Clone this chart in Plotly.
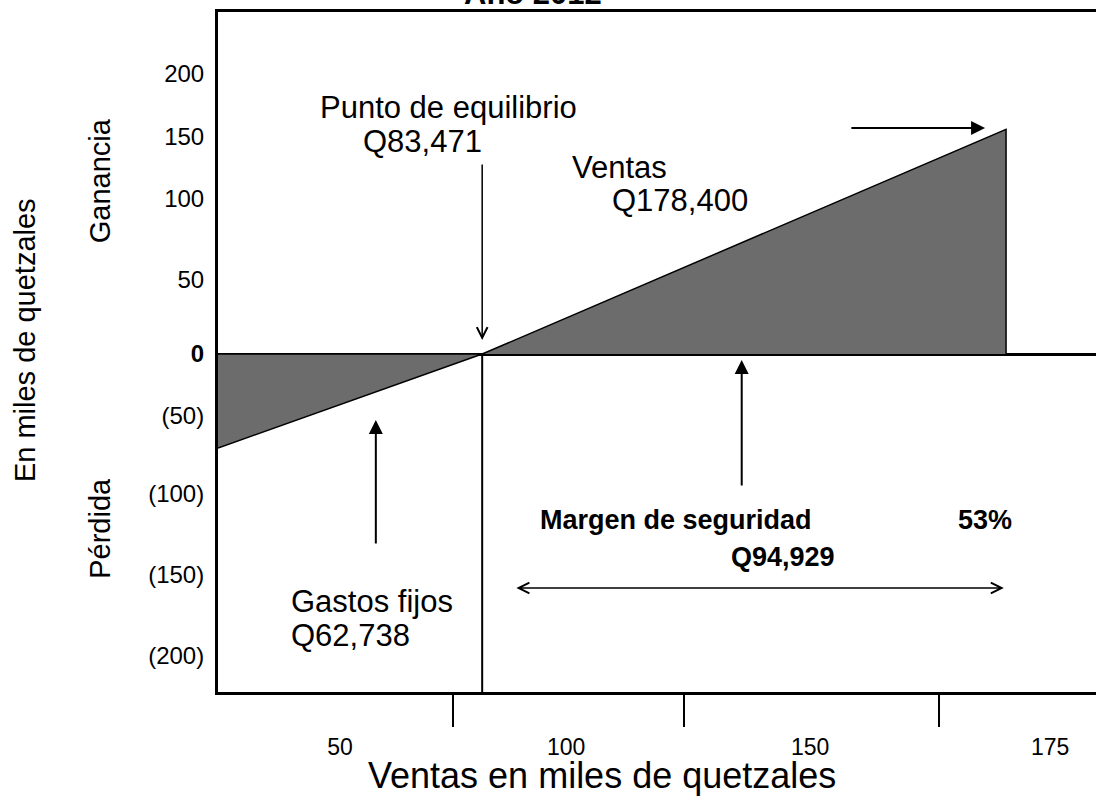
import plotly.graph_objects as go

# ---- values (thousands of quetzales) ----
breakeven_sales = 83.471
total_sales = 178.4
fixed_costs = 62.738
profit_at_sales = 150.0
axis_start = 35.6
axis_end = 194.7
y_low, y_high = -225.6, 228.3

y_tick_pos = [187, 145, 104, 50, 0, -41, -93, -147, -201]
y_tick_text = ["200", "150", "100", "50", "<b>0</b>", "(50)", "(100)", "(150)", "(200)"]

x_label_pos = [57.7, 98.7, 142.9, 186.4]
x_label_text = ["50", "100", "150", "175"]
x_mark_pos = [78.2, 120.0, 166.2]

loss_x = [axis_start, breakeven_sales, axis_start]
loss_y = [0, 0, -fixed_costs]
profit_x = [breakeven_sales, total_sales, total_sales]
profit_y = [0, profit_at_sales, 0]

FONT = "Liberation Sans, Arial, sans-serif"
FILL = "#6c6c6c"

fig = go.Figure()
fig.add_trace(go.Scatter(x=loss_x, y=loss_y, fill="toself", fillcolor=FILL,
                         mode="lines", line=dict(color="black", width=1.5),
                         hoverinfo="skip", showlegend=False))
fig.add_trace(go.Scatter(x=profit_x, y=profit_y, fill="toself", fillcolor=FILL,
                         mode="lines", line=dict(color="black", width=1.5),
                         hoverinfo="skip", showlegend=False))
# break-even vertical line
fig.add_trace(go.Scatter(x=[breakeven_sales, breakeven_sales], y=[0, y_low],
                         mode="lines", line=dict(color="black", width=2),
                         hoverinfo="skip", showlegend=False))
# invisible trace on xaxis2 for tick marks
fig.add_trace(go.Scatter(x=[axis_start], y=[0], xaxis="x2", mode="markers",
                         marker=dict(opacity=0), hoverinfo="skip", showlegend=False))

fig.update_layout(
    width=1096, height=798,
    margin=dict(l=218, r=0, t=12, b=106),
    paper_bgcolor="white", plot_bgcolor="white",
    font=dict(family=FONT, color="black"),
    xaxis=dict(range=[axis_start, axis_end], showgrid=False, zeroline=False,
               showline=True, linecolor="black", linewidth=3, mirror=True,
               tickvals=x_label_pos, ticktext=x_label_text, ticks="",
               ticklabelstandoff=32, tickfont=dict(size=23, family=FONT)),
    xaxis2=dict(range=[axis_start, axis_end], overlaying="x", anchor="y", side="bottom",
                showgrid=False, zeroline=False, showline=False,
                tickvals=x_mark_pos, ticks="outside", ticklen=34, tickwidth=1.5,
                tickcolor="black", showticklabels=False),
    yaxis=dict(range=[y_low, y_high], showgrid=False, zeroline=True,
               zerolinecolor="black", zerolinewidth=3,
               showline=True, linecolor="black", linewidth=3,
               tickvals=y_tick_pos, ticktext=y_tick_text, ticks="",
               ticklabelstandoff=6, tickfont=dict(size=24, family=FONT)),
)

def txt(x, y, s, size=31, bold=False, xanchor="center", **kw):
    fig.add_annotation(x=x, y=y, text=f"<b>{s}</b>" if bold else s, showarrow=False,
                       xanchor=xanchor, yanchor="middle",
                       font=dict(size=size, family=FONT, color="black"), **kw)

txt(77.3, 164.5, "Punto de equilibrio")
txt(72.7, 142.0, "Q83,471")
txt(108.3, 124.2, "Ventas")
txt(119.3, 102.8, "Q178,400")
txt(118.6, -110.8, "Margen de seguridad", size=27, bold=True)
txt(174.6, -110.8, "53%", size=27, bold=True)
txt(138.0, -135.5, "Q94,929", size=27, bold=True)
txt(48.5, -164.9, "Gastos fijos", xanchor="left")
txt(48.5, -187.6, "Q62,738", xanchor="left")

# axis captions
fig.add_annotation(x=-0.2198, xref="paper", xanchor="center", y=9.3, yref="y",
                   text="En miles de quetzales", textangle=-90, showarrow=False,
                   font=dict(size=29, family=FONT))
fig.add_annotation(x=-0.1344, xref="paper", xanchor="center", y=116, yref="y",
                   text="Ganancia", textangle=-90, showarrow=False,
                   font=dict(size=29, family=FONT))
fig.add_annotation(x=-0.1344, xref="paper", xanchor="center", y=-116, yref="y",
                   text="Pérdida", textangle=-90, showarrow=False,
                   font=dict(size=29, family=FONT))
fig.add_annotation(x=105.2, xref="x", y=-0.1235, yref="paper", yanchor="middle",
                   text="Ventas en miles de quetzales", showarrow=False,
                   font=dict(size=36, family=FONT))
fig.add_annotation(x=92.7, xref="x", y=0.999, yref="paper", yanchor="bottom",
                   text="<b>Año 2012</b>", showarrow=False,
                   font=dict(size=31, family=FONT))

def arrow(x0, y0, x1, y1, head=2, size=1.4, width=2, both=False):
    fig.add_annotation(x=x1, y=y1, ax=x0, ay=y0, xref="x", yref="y", axref="x", ayref="y",
                       text="", showarrow=True, arrowhead=head, arrowsize=size,
                       arrowwidth=width, arrowcolor="black",
                       startarrowhead=head, startarrowsize=size,
                       arrowside="end+start" if both else "end")

arrow(breakeven_sales, 127.5, breakeven_sales, 9.3, head=5, size=1.4, width=1.5)
arrow(150.1, 150.9, 174.6, 150.9)
arrow(130.5, -88.8, 130.5, -4.0)
arrow(64.2, -127.5, 64.2, -44.0)
arrow(89.4, -156.2, 178.0, -156.2, head=5, size=1.4, width=1.5, both=True)

fig.write_html("out.html", config={"displayModeBar": False},
               post_script="document.body.style.margin='0';")
